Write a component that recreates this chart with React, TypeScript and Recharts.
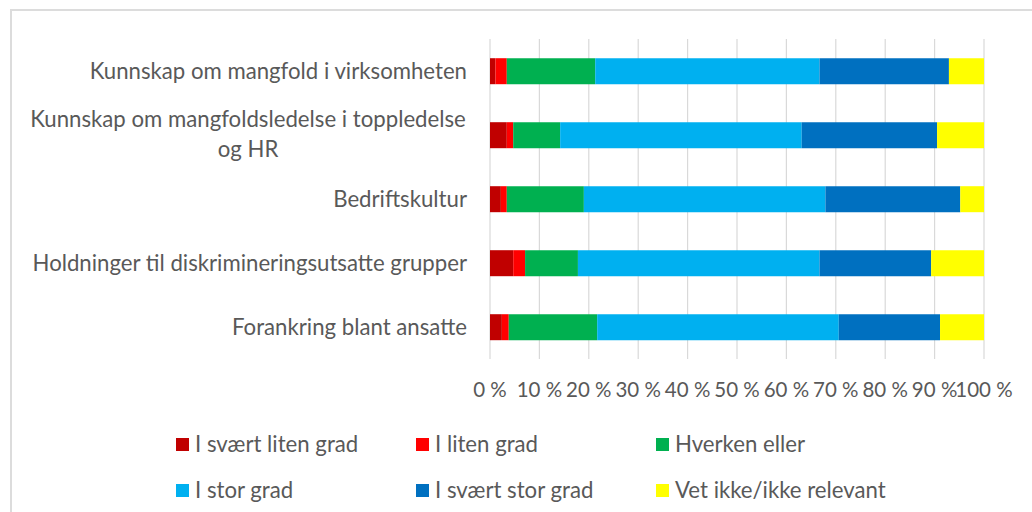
import React from 'react';
import { BarChart, Bar, XAxis, YAxis, CartesianGrid, Legend } from 'recharts';

// Categories, top to bottom
const categories = [
  'Kunnskap om mangfold i virksomheten',
  'Kunnskap om mangfoldsledelse i toppledelse og HR',
  'Bedriftskultur',
  'Holdninger til diskrimineringsutsatte grupper',
  'Forankring blant ansatte',
];

// Shares in percent, one array per answer
const svaertLiten = [1.1, 3.4, 2.2, 4.7, 2.4];
const liten = [2.3, 1.3, 1.2, 2.4, 1.4];
const hverken = [17.9, 9.5, 15.6, 10.7, 17.9];
const stor = [45.4, 48.9, 48.9, 48.9, 48.9];
const svaertStor = [26.2, 27.4, 27.3, 22.6, 20.5];
const vetIkke = [7.1, 9.5, 4.8, 10.7, 8.9];

const xTicks = [0, 10, 20, 30, 40, 50, 60, 70, 80, 90, 100];

const series = [
  { key: 'a', name: 'I svært liten grad', color: '#C00000', values: svaertLiten },
  { key: 'b', name: 'I liten grad', color: '#FF0000', values: liten },
  { key: 'c', name: 'Hverken eller', color: '#00B050', values: hverken },
  { key: 'd', name: 'I stor grad', color: '#00B0F0', values: stor },
  { key: 'e', name: 'I svært stor grad', color: '#0070C0', values: svaertStor },
  { key: 'f', name: 'Vet ikke/ikke relevant', color: '#FFFF00', values: vetIkke },
];

const data = categories.map((cat, i) => {
  const row: any = { cat };
  series.forEach((s) => (row[s.key] = s.values[i]));
  return row;
});

const FONT = 'Lato, "Open Sans", sans-serif';
const TEXT = '#595959';
const FS = 22.2;

// split long labels into two lines like Excel does
const wrap = (label: string, single = 45, lineMax = 43) => {
  if (label.length <= single) return [label];
  const lines: string[] = [''];
  label.split(' ').forEach((w) => {
    const cur = lines[lines.length - 1];
    if ((cur + ' ' + w).trim().length > lineMax) lines.push(w);
    else lines[lines.length - 1] = (cur + ' ' + w).trim();
  });
  return lines;
};

const CategoryTick = ({ x, y, payload }: any) => {
  const lines = wrap(payload.value);
  if (lines.length === 1) {
    return (
      <text x={x} y={y} dy="0.36em" textAnchor="end" fill={TEXT} fontSize={FS} fontFamily={FONT}>
        {lines[0]}
      </text>
    );
  }
  const lh = 30;
  const start = -((lines.length - 1) * lh) / 2;
  const cx = x - 219;
  return (
    <text x={cx} y={y} textAnchor="middle" fill={TEXT} fontSize={FS} fontFamily={FONT}>
      {lines.map((l, i) => (
        <tspan key={i} x={cx} dy={i === 0 ? start + 7 : lh}>
          {l}
        </tspan>
      ))}
    </text>
  );
};

const LegendContent = () => (
  <div
    style={{
      height: 100,
      paddingLeft: 164,
      paddingTop: 33,
      boxSizing: 'border-box',
      display: 'grid',
      gridTemplateColumns: '240px 240px 280px',
      rowGap: 22,
      fontFamily: FONT,
      fontSize: FS,
      color: TEXT,
      lineHeight: '24px',
    }}
  >
    {series.map((s) => (
      <div key={s.key} style={{ display: 'flex', alignItems: 'center', whiteSpace: 'nowrap' }}>
        <span style={{ width: 13, height: 13, background: s.color, marginRight: 6, display: 'inline-block' }} />
        {s.name}
      </div>
    ))}
  </div>
);

export default function App() {
  return (
    <div
      style={{
        position: 'absolute',
        left: 10,
        top: 9,
        width: 1040,
        height: 520,
        borderTop: '2px solid #dcdcdc',
        borderLeft: '2px solid #dcdcdc',
        background: '#fff',
      }}
    >
      <BarChart
        width={1020}
        height={500}
        data={data}
        layout="vertical"
        margin={{ top: 28, right: 48, left: 0, bottom: 12 }}
        barCategoryGap="30%"
      >
        <CartesianGrid horizontal={false} stroke="#d9d9d9" strokeWidth={1.2} />
        <XAxis
          type="number"
          domain={[0, 100]}
          ticks={xTicks}
          interval={0}
          tickFormatter={(v) => `${v} %`}
          axisLine={false}
          tickLine={false}
          tickSize={0}
          tickMargin={23}
          height={40}
          tick={{ fill: TEXT, fontSize: 20.5, fontFamily: FONT }}
        />
        <YAxis
          type="category"
          dataKey="cat"
          width={478}
          axisLine={false}
          tickLine={false}
          tickSize={0}
          tickMargin={23}
          interval={0}
          tick={<CategoryTick />}
        />
        <Legend
          verticalAlign="bottom"
          content={<LegendContent />}
          wrapperStyle={{ left: 0, width: 1020, height: 100 }}
        />
        {series.map((s) => (
          <Bar key={s.key} dataKey={s.key} name={s.name} stackId="1" fill={s.color} isAnimationActive={false} />
        ))}
      </BarChart>
    </div>
  );
}
